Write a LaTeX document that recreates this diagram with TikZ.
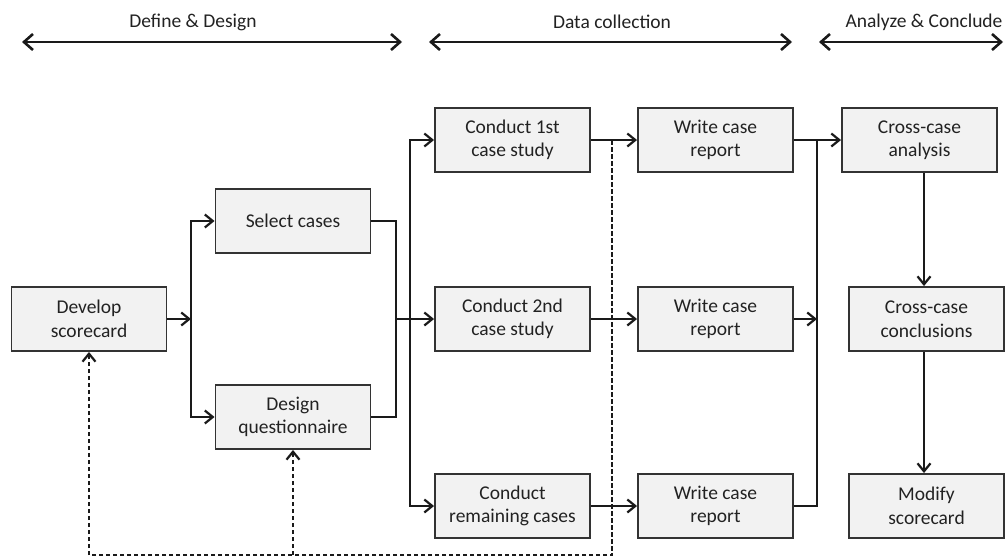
\documentclass[tikz,border=0pt]{standalone}
\usepackage{fontspec}
\setmainfont{Carlito}
\usetikzlibrary{arrows.meta}
\definecolor{boxfill}{HTML}{F2F2F2}
\definecolor{boxline}{HTML}{333333}
\definecolor{ink}{HTML}{1A1A1A}
\definecolor{txt}{HTML}{222222}
\tikzset{
  stagebox/.style={draw=boxline, fill=boxfill, line width=1.9pt,
    minimum width=155pt, minimum height=64pt, inner sep=0pt, align=center,
    text=txt, font=\fontsize{19.5}{23.5}\selectfont},
  flow/.style={draw=ink, line width=2pt, -{Straight Barb[length=8pt,width=13pt,line width=2.2pt]}},
  plainline/.style={draw=ink, line width=2pt},
  feedback/.style={draw=ink, line width=1.7pt, dash pattern=on 4.5pt off 2.5pt,
    -{Straight Barb[length=8pt,width=13pt,line width=2.2pt]}},
  phase/.style={draw=ink, line width=2.4pt,
    {Straight Barb[length=9pt,width=16pt,line width=2.6pt]}-{Straight Barb[length=9pt,width=16pt,line width=2.6pt]}},
  phaselabel/.style={text=txt, font=\fontsize{19.5}{23.5}\selectfont, inner sep=0pt}
}
\begin{document}
\begin{tikzpicture}[x=1pt,y=-1pt]
\useasboundingbox[fill=white] (0,0) rectangle (1005,557);

% phase headers
\coordinate (p1a) at (22,42);  \coordinate (p1b) at (402,42);
\coordinate (p2a) at (429,42); \coordinate (p2b) at (792,42);
\coordinate (p3a) at (819,42); \coordinate (p3b) at (1003,42);
\draw[phase] (p1a) -- (p1b);
\draw[phase] (p2a) -- (p2b);
\draw[phase] (p3a) -- (p3b);
\node[phaselabel] (h1) at (193,22) {Define \& Design};
\node[phaselabel] (h2) at (612,22) {Data collection};
\node[phaselabel] (h3) at (924,22) {Analyze \& Conclude};

% boxes
\node[stagebox] (dev) at (89,319)    {Develop\\scorecard};
\node[stagebox] (sel) at (293,221)   {Select cases};
\node[stagebox] (dq)  at (293,417)   {Design\\questionnaire};
\node[stagebox] (c1)  at (512.5,140) {Conduct 1st\\case study};
\node[stagebox] (c2)  at (512.5,319) {Conduct 2nd\\case study};
\node[stagebox] (c3)  at (512.5,506) {Conduct\\remaining cases};
\node[stagebox] (w1)  at (715.5,140) {Write case\\report};
\node[stagebox] (w2)  at (715.5,319) {Write case\\report};
\node[stagebox] (w3)  at (715.5,506) {Write case\\report};
\node[stagebox] (ana) at (919.5,140) {Cross-case\\analysis};
\node[stagebox] (con) at (926.5,319) {Cross-case\\conclusions};
\node[stagebox] (mod) at (926.5,506) {Modify\\scorecard};

% bus lines
\coordinate (b1) at (191,0);
\coordinate (b2) at (396,0);
\coordinate (b3) at (410,0);
\coordinate (b4) at (817,0);
\coordinate (b5) at (924,0);
\coordinate (fb) at (612,0);
\coordinate (low) at (0,555);

% design phase
\draw[flow] (dev.east) -- (b1 |- dev.east);
\draw[flow] (b1 |- dev.east) |- (sel.west);
\draw[flow] (b1 |- dev.east) |- (dq.west);
\draw[plainline] (sel.east) -| (b2 |- dq.east) -- (dq.east);
\draw[flow] (b2 |- c2.west) -- (c2.west);
\draw[flow] (b3 |- c2.west) |- (c1.west);
\draw[flow] (b3 |- c2.west) |- (c3.west);

% data collection
\draw[flow] (c1.east) -- (w1.west);
\draw[flow] (c2.east) -- (w2.west);
\draw[flow] (c3.east) -- (w3.west);

% analysis
\draw[flow] (w1.east) -- (ana.west);
\draw[flow] (w2.east) -- (b4 |- w2.east);
\draw[plainline] (w3.east) -| (b4 |- w1.east);
\draw[flow] (b5 |- ana.south) -- (b5 |- con.north);
\draw[flow] (b5 |- con.south) -- (b5 |- mod.north);

% feedback loops
\draw[feedback] (fb |- c1.east) |- (low -| dev.south) -- (dev.south);
\draw[feedback] (low -| dq.south) -- (dq.south);
\end{tikzpicture}
\end{document}
